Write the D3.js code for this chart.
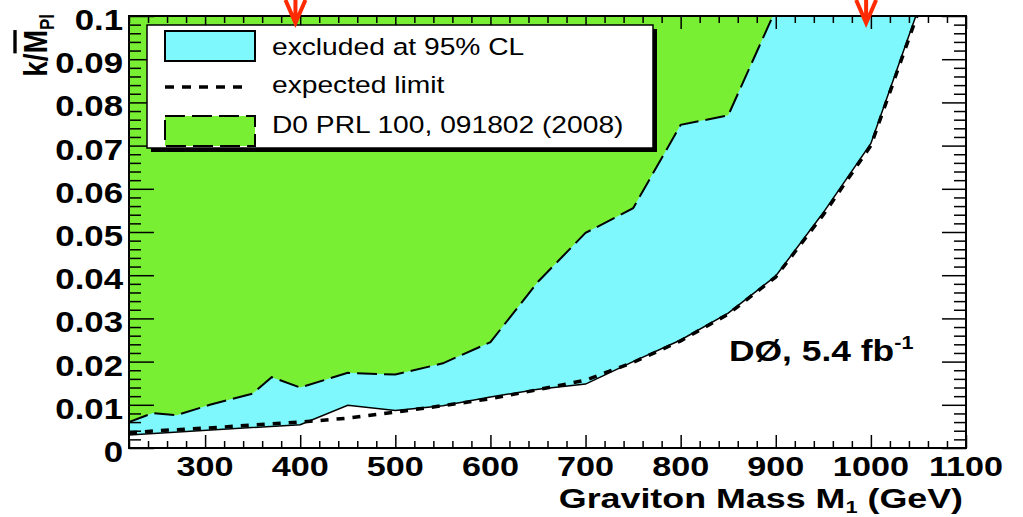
<!DOCTYPE html>
<html>
<head>
<meta charset="utf-8">
<script src="https://cdn.jsdelivr.net/npm/d3@7"></script>
<style>
  body { margin: 0; background: #fff; }
  text { font-family: "Liberation Sans", Arial, sans-serif; fill: #000; }
</style>
</head>
<body>
<div id="chart"></div>
<script>
// D0 PRL 100, 091802 (2008) limit
const d0Mass = [220, 245, 270, 305, 350, 370, 400, 450, 500, 550, 600, 650, 700, 750, 800, 850, 900];
const d0K = [0.0060, 0.0081, 0.0076, 0.0100, 0.0126, 0.0164, 0.0140, 0.0174, 0.0170, 0.0196, 0.0245, 0.0385, 0.0498, 0.0555, 0.0748, 0.0770, 0.1015];

// observed limit (excluded at 95% CL above)
const obsMass = [220, 400, 450, 500, 550, 600, 650, 700, 750, 800, 850, 900, 950, 1000, 1050];
const obsK = [0.0030, 0.0054, 0.0099, 0.0087, 0.0098, 0.0118, 0.0136, 0.0148, 0.0200, 0.0250, 0.0312, 0.0398, 0.0545, 0.0705, 0.1017];

// expected limit
const expMass = [220, 250, 300, 350, 400, 450, 500, 550, 600, 650, 700, 750, 800, 850, 900, 950, 1000, 1050];
const expK = [0.0035, 0.0040, 0.0046, 0.0053, 0.0060, 0.0069, 0.0083, 0.0098, 0.0114, 0.0135, 0.0157, 0.0198, 0.0248, 0.0310, 0.0396, 0.0540, 0.0700, 0.1010];

const xTickLabels = [300, 400, 500, 600, 700, 800, 900, 1000, 1100];
const yTickLabels = [0, 0.01, 0.02, 0.03, 0.04, 0.05, 0.06, 0.07, 0.08, 0.09, 0.1];
const arrowMass = [395, 995];

const legendItems = ["excluded at 95% CL", "expected limit", "D0 PRL 100, 091802 (2008)"];

const W = 1023, H = 517;
const margin = { top: 16, right: 57, bottom: 69, left: 129 };
const green = "#78ef33", cyan = "#7ef8fc", red = "#ff2a00";
const sx = 1.2; // the picture is a bit wide, text is stretched to match

const svg = d3.select("#chart").append("svg")
    .attr("width", W).attr("height", H);

const x = d3.scaleLinear().domain([220, 1100]).range([margin.left, W - margin.right]);
const y = d3.scaleLinear().domain([0, 0.1]).range([H - margin.bottom, margin.top]);

svg.append("clipPath").attr("id", "plotclip")
    .append("rect")
    .attr("x", x(220)).attr("y", y(0.1))
    .attr("width", x(1100) - x(220)).attr("height", y(0) - y(0.1));

const zip = (ms, ks) => ms.map((m, i) => [m, ks[i]]);
const d0 = zip(d0Mass, d0K), obs = zip(obsMass, obsK), exp = zip(expMass, expK);

const plot = svg.append("g").attr("clip-path", "url(#plotclip)");

const area = d3.area().x(d => x(d[0])).y0(y(0.12)).y1(d => y(d[1]));
const line = d3.line().x(d => x(d[0])).y(d => y(d[1]));

// excluded region, then the older result on top of it
plot.append("path").attr("d", area(obs)).attr("fill", cyan);
plot.append("path").attr("d", area(d0)).attr("fill", green);

plot.append("path").attr("d", line(d0))
    .attr("fill", "none").attr("stroke", "#000").attr("stroke-width", 2)
    .attr("stroke-dasharray", "20,7");
plot.append("path").attr("d", line(obs))
    .attr("fill", "none").attr("stroke", "#000").attr("stroke-width", 1.5);
plot.append("path").attr("d", line(exp))
    .attr("fill", "none").attr("stroke", "#000").attr("stroke-width", 3.5)
    .attr("stroke-dasharray", "8,8");

// ticks, all drawn inside the frame
const xMinor = d3.range(220, 1101, 20).filter(v => v % 100 !== 0);
const yMinor = d3.range(0, 0.1001, 0.002).filter(v => Math.abs(v * 100 - Math.round(v * 100)) > 1e-6);

function tickAxis(axisFn, scale, values, size, transform) {
  const g = svg.append("g").attr("transform", transform)
      .call(axisFn(scale).tickValues(values).tickSize(-size).tickFormat(""));
  g.select(".domain").remove();
  g.selectAll(".tick line").attr("stroke", "#000").attr("stroke-width", 1.5);
}
const atBottom = `translate(0,${y(0)})`, atTop = `translate(0,${y(0.1)})`;
const atLeft = `translate(${x(220)},0)`, atRight = `translate(${x(1100)},0)`;
tickAxis(d3.axisBottom, x, xTickLabels, 13, atBottom);
tickAxis(d3.axisBottom, x, xMinor, 7, atBottom);
tickAxis(d3.axisTop, x, xTickLabels, 13, atTop);
tickAxis(d3.axisTop, x, xMinor, 7, atTop);
tickAxis(d3.axisLeft, y, yTickLabels, 25, atLeft);
tickAxis(d3.axisLeft, y, yMinor, 12, atLeft);
tickAxis(d3.axisRight, y, yTickLabels, 24, atRight);
tickAxis(d3.axisRight, y, yMinor, 12, atRight);

// frame
svg.append("rect")
    .attr("x", x(220)).attr("y", y(0.1))
    .attr("width", x(1100) - x(220)).attr("height", y(0) - y(0.1))
    .attr("fill", "none").attr("stroke", "#000").attr("stroke-width", 2);

// tick labels
svg.append("g").selectAll("text").data(xTickLabels).join("text")
    .attr("transform", d => `translate(${x(d)},${y(0) + 28}) scale(${sx},1)`)
    .attr("text-anchor", "middle")
    .attr("font-size", 28.5).attr("font-weight", "bold")
    .text(d => d);

svg.append("g").selectAll("text").data(yTickLabels).join("text")
    .attr("transform", d => `translate(${x(220) - 6},${y(d) + 14}) scale(${sx},1)`)
    .attr("text-anchor", "end")
    .attr("font-size", 29).attr("font-weight", "bold")
    .text(d => d === 0 ? "0" : String(+d.toFixed(2)));

// axis titles
const xt = svg.append("text")
    .attr("transform", `translate(${x(1100) - 3},${y(0) + 60}) scale(1.28,1)`)
    .attr("text-anchor", "end")
    .attr("font-size", 28).attr("font-weight", "bold");
xt.append("tspan").text("Graviton Mass M");
xt.append("tspan").attr("font-size", 17).attr("dy", 5).text("1");
xt.append("tspan").attr("dy", -5).text(" (GeV)");

const yt = svg.append("text")
    .attr("transform", `translate(47,${y(0.1) - 2}) rotate(-90) scale(1,${sx})`)
    .attr("text-anchor", "end")
    .attr("font-size", 28).attr("font-weight", "bold");
yt.append("tspan").text("k/");
yt.append("tspan").style("text-decoration", "overline").text("M");
yt.append("tspan").attr("font-size", 17).attr("dy", 6).text("Pl");

// experiment label
const lab = svg.append("text")
    .attr("transform", `translate(729,361) scale(${sx},1)`)
    .attr("font-size", 29.5).attr("font-weight", "bold");
lab.append("tspan").text("DØ, 5.4 fb");
lab.append("tspan").attr("font-size", 18).attr("dy", -12).text("-1");

// legend
const lg = svg.append("g");
lg.append("rect").attr("x", 151).attr("y", 29).attr("width", 506).attr("height", 123).attr("fill", "#000");
lg.append("rect").attr("x", 147).attr("y", 25).attr("width", 506).attr("height", 123)
    .attr("fill", "#fff").attr("stroke", "#000").attr("stroke-width", 1.5);
lg.append("rect").attr("x", 165).attr("y", 31).attr("width", 90).attr("height", 30)
    .attr("fill", cyan).attr("stroke", "#000").attr("stroke-width", 2);
lg.append("line").attr("x1", 165).attr("x2", 247).attr("y1", 87).attr("y2", 87)
    .attr("stroke", "#000").attr("stroke-width", 3.5).attr("stroke-dasharray", "9,8");
lg.append("rect").attr("x", 165).attr("y", 116).attr("width", 90).attr("height", 30)
    .attr("fill", green).attr("stroke", "#000").attr("stroke-width", 2)
    .attr("stroke-dasharray", "20,7");
lg.selectAll("text.item").data(legendItems).join("text")
    .attr("class", "item")
    .attr("transform", (d, i) => `translate(272,${[55, 93, 133][i]}) scale(${sx},1)`)
    .attr("font-size", 23.5)
    .text(d => d);

// red arrows at the top
const ag = svg.append("g").attr("stroke", red).attr("stroke-width", 4).attr("fill", "none");
arrowMass.forEach(m => {
  const cx = x(m);
  ag.append("path").attr("d", `M${cx - 10},0 L${cx},23 L${cx + 10},0 M${cx},0 L${cx},23`);
});
</script>
</body>
</html>
